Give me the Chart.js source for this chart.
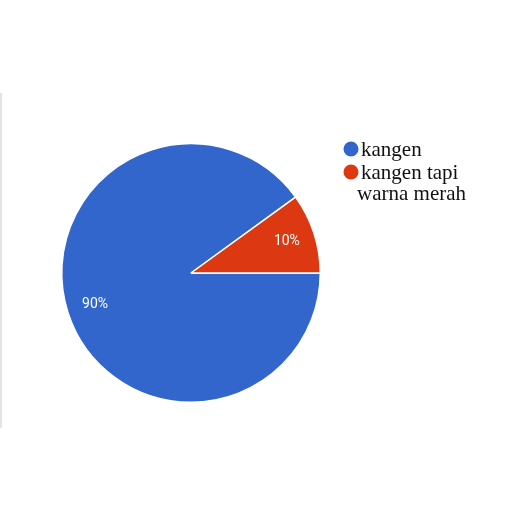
<!DOCTYPE html>
<html>
<head>
<meta charset="utf-8">
<script src="https://cdn.jsdelivr.net/npm/chart.js@4/dist/chart.umd.min.js"></script>
<style>
  html, body { margin: 0; padding: 0; background: #fff; }
  #wrap { position: relative; width: 512px; height: 512px; }
  #edge { position: absolute; left: 0; top: 93px; width: 2px; height: 335px; background: #e4e4e4; }
  canvas { position: absolute; left: 0; top: 0; }
</style>
</head>
<body>
<div id="wrap">
  <canvas id="c" width="512" height="512"></canvas>
  <div id="edge"></div>
</div>
<script>
const categories = ['kangen', 'kangen tapi warna merah'];
const values = [90, 10];
const colors = ['#3366CC', '#DC3912'];

const sliceLabels = {
  id: 'sliceLabels',
  afterDatasetsDraw(chart) {
    const ctx = chart.ctx;
    const meta = chart.getDatasetMeta(0);
    const total = values.reduce((a, b) => a + b, 0);
    ctx.save();
    ctx.fillStyle = '#ffffff';
    ctx.font = '14px Roboto, "Noto Sans", sans-serif';
    ctx.textAlign = 'center';
    ctx.textBaseline = 'middle';
    meta.data.forEach((arc, i) => {
      const p = arc.getProps(['x', 'y', 'startAngle', 'endAngle', 'outerRadius'], true);
      const mid = (p.startAngle + p.endAngle) / 2;
      const r = p.outerRadius * 0.78;
      const txt = Math.round(values[i] / total * 100) + '%';
      ctx.fillText(txt, p.x + Math.cos(mid) * r, p.y + Math.sin(mid) * r);
    });
    ctx.restore();
  }
};

const sideLegend = {
  id: 'sideLegend',
  afterDraw(chart) {
    const ctx = chart.ctx;
    ctx.save();
    ctx.font = '21px "Liberation Serif", "DejaVu Serif", serif';
    ctx.textBaseline = 'alphabetic';
    ctx.textAlign = 'left';
    const x0 = 351, textX = 361, wrapX = 357, maxW = 115;
    let y = 156;
    chart.data.labels.forEach((lab, i) => {
      const words = lab.split(' ');
      const lines = [];
      let cur = '';
      words.forEach(w => {
        const t = cur ? cur + ' ' + w : w;
        if (ctx.measureText(t).width > maxW && cur) { lines.push(cur); cur = w; }
        else cur = t;
      });
      if (cur) lines.push(cur);
      ctx.fillStyle = chart.data.datasets[0].backgroundColor[i];
      ctx.beginPath();
      ctx.arc(x0, y - 7, 7.5, 0, Math.PI * 2);
      ctx.fill();
      ctx.fillStyle = '#111';
      lines.forEach((ln, j) => {
        ctx.fillText(ln, j === 0 ? textX : wrapX, y + j * 21);
      });
      y += 23 + (lines.length - 1) * 21;
    });
    ctx.restore();
  }
};

new Chart(document.getElementById('c'), {
  type: 'pie',
  data: {
    labels: categories,
    datasets: [{
      data: values,
      backgroundColor: colors,
      borderColor: '#ffffff',
      borderWidth: 1.5
    }]
  },
  options: {
    responsive: false,
    animation: false,
    rotation: 90,
    layout: { padding: { left: 61, right: 191, top: 143, bottom: 109 } },
    plugins: { legend: { display: false }, tooltip: { enabled: false } }
  },
  plugins: [sliceLabels, sideLegend]
});
</script>
</body>
</html>
